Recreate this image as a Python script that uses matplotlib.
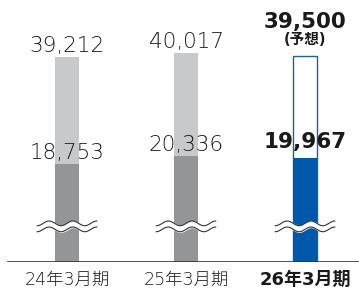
import numpy as np
import matplotlib.pyplot as plt

plt.rcParams['font.family'] = ['DejaVu Sans', 'Noto Sans CJK JP']

# データ
periods = ['24年3月期', '25年3月期', '26年3月期']
totals = [39212, 40017, 39500]
lower = [18753, 20336, 19967]
total_labels = ['39,212', '40,017', '39,500']
lower_labels = ['18,753', '20,336', '19,967']

x = np.arange(len(periods))
w = 0.2
px = 191.5  # 1ピクセルあたりの値

fig = plt.figure(figsize=(3.59, 2.89), dpi=100)
ax = fig.add_axes([0, 27 / 289, 1, 262 / 289])
ax.set_xlim(-67 / 119, 292 / 119)
ax.set_ylim(0, 262 * px)
ax.axis('off')

# 実績(グレー)
ax.bar(x[:2], totals[:2], w, color='#c8c9ca', zorder=1)
ax.bar(x[:2], lower[:2], w, color='#939598', zorder=2)
# 予想(青枠)
ax.bar(x[2], totals[2], w, color='white', edgecolor='#1a5fa8', linewidth=1.0, zorder=1)
ax.bar(x[2], lower[2], w, color='#0058aa', zorder=2)

# 波線(省略記号)
t = np.linspace(-0.25, 0.25, 100)
for xi in x:
    y1 = 7400 + 450 * np.sin(t / 0.25 * 2.5 * np.pi)
    y0 = y1 - 1150
    ax.fill_between(xi + t, y0, y1, color='white', zorder=3)
    ax.plot(xi + t, y1, color='#333333', lw=0.8, zorder=4)
    ax.plot(xi + t, y0, color='#333333', lw=0.8, zorder=4)

# 基線
ax.axhline(0, xmin=8 / 359, xmax=358 / 359, color='#333333', lw=1.2, zorder=5)

# 数値ラベル
for i in range(2):
    ax.text(x[i], totals[i] + 5 * px, total_labels[i], ha='center', va='baseline',
            fontsize=15.5, fontweight='light', color='#1e1e1e', zorder=6)
    ax.text(x[i], lower[i] + 5 * px, lower_labels[i], ha='center', va='baseline',
            fontsize=15.5, fontweight='light', color='#1e1e1e', zorder=6)
ax.text(x[2], (262 - 28) * px, total_labels[2], ha='center', va='baseline',
        fontsize=15.5, fontweight='bold', color='#1a1a1a', zorder=6)
ax.text(x[2], (262 - 39) * px, '(予想)', ha='center', va='center',
        fontsize=10.5, fontweight='bold', color='#1a1a1a', zorder=6)
ax.text(x[2], lower[2] + 10 * px, lower_labels[2], ha='center', va='baseline',
        fontsize=15.5, fontweight='bold', color='#1a1a1a', zorder=6)

# カテゴリラベル
for i, p in enumerate(periods):
    ax.text(x[i], -18 * px, p, ha='center', va='center',
            fontsize=13 if i == 2 else 12.5,
            fontweight='bold' if i == 2 else 'light',
            color='#1a1a1a' if i == 2 else '#1e1e1e', clip_on=False)

fig.savefig('out.png', dpi=100)
